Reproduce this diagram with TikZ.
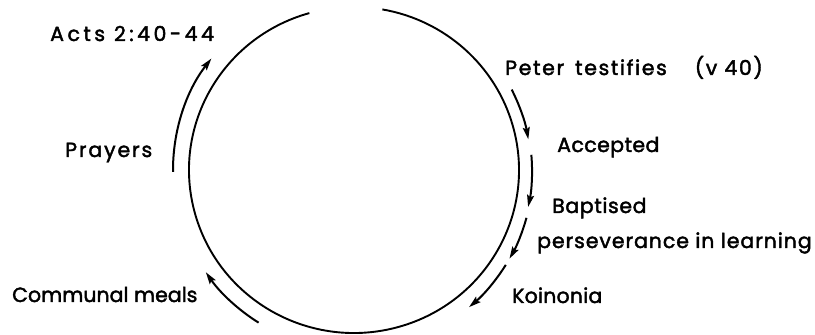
\documentclass[tikz,border=0pt]{standalone}
\usepackage{fontspec}
\setmainfont{Poppins}[FakeBold=2]
\newfontfamily\lblfont{Poppins}[FakeBold=2]
\usetikzlibrary{arrows.meta}
\begin{document}
\begin{tikzpicture}[x=1pt,y=1pt,
  ring/.style={line width=1.9pt},
  arr/.style={line width=2pt,-{Stealth[length=12pt,width=7pt,inset=2pt]}},
  lbl/.style={anchor=base west,inner sep=0pt,font=\lblfont\fontsize{20.5}{24}\selectfont},
  ls/.style={font=\lblfont\fontsize{20.5}{24}\selectfont\addfontfeature{LetterSpace=#1}}]
\useasboundingbox (0,0) rectangle (815,335);
\coordinate (c) at (354,165);
% main ring with a gap at the top
\draw[ring] (c) ++(105.7:165 and 163) arc[start angle=105.7,end angle=440.1,x radius=165,y radius=163];
% labels
\node[lbl,ls=17] (acts) at (50,294) {Acts 2:40-44};
\node[lbl,ls=8] (peter) at (505,260) {Peter\hspace{11pt}testifies\hspace{28pt}(v 40)};
\node[lbl,ls=2] (acc) at (557,183) {Accepted};
\node[lbl,ls=3] (bap) at (552,122) {Baptised};
\node[lbl,ls=4.5] (pers) at (537,87) {perseverance in learning};
\node[lbl,ls=1] (koi) at (512,32) {Koinonia};
\node[lbl,ls=9] (pray) at (65,178) {Prayers};
\node[lbl,ls=0] (meal) at (12,33) {Communal meals};
% arrows along the ring
\coordinate (a1) at ([shift={(27:177)}]c);
\coordinate (a2) at ([shift={(4.9:178)}]c);
\coordinate (a3) at ([shift={(-15.5:179)}]c);
\coordinate (a4) at ([shift={(-32:179)}]c);
\coordinate (a5) at ([shift={(-122:180)}]c);
\coordinate (a6) at ([shift={(180.6:181)}]c);
\draw[arr] (a1) arc[start angle=27,end angle=10,radius=177];
\draw[arr] (a2) arc[start angle=4.9,end angle=-12,radius=178];
\draw[arr] (a3) arc[start angle=-15.5,end angle=-29.7,radius=179];
\draw[arr] (a4) arc[start angle=-32,end angle=-50,radius=179];
\draw[arr] (a5) arc[start angle=-122,end angle=-145.4,radius=180];
\draw[arr] (a6) arc[start angle=180.6,end angle=142,radius=181];
\end{tikzpicture}
\end{document}
